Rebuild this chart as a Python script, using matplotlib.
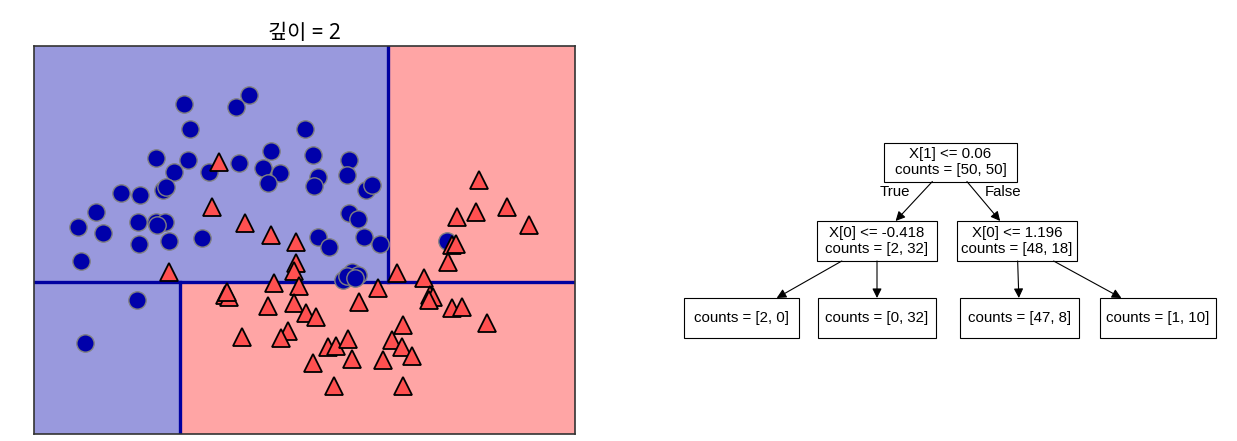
import numpy as np
import matplotlib
matplotlib.use("Agg")
import matplotlib.pyplot as plt
from matplotlib.colors import ListedColormap
from matplotlib.patches import Rectangle

# two moons sample, class 0 (circles)
x0 = [-0.387, 0.117, 0.017, -0.340, 0.552, -0.604, -0.356, -0.465, -0.193, 0.040,
      0.288, 0.226, 0.358, 0.265, 0.614, 0.653, 0.622, 0.893, 0.878, 1.025,
      1.072, -0.876, -0.728, -0.550, -0.527, -1.070, -1.210, -1.016, -0.744, -0.604,
      -0.534, -0.596, -0.736, -0.503, -0.247, -1.186, 0.893, 0.963, 0.653, 0.738,
      1.010, 1.134, 0.847, 0.917, 0.963, 0.878, 0.940, 1.654, -0.752, -1.155]
y0 = [1.441, 1.511, 1.418, 1.247, 1.247, 1.022, 1.007, 0.914, 0.914, 0.983,
      1.077, 0.945, 0.906, 0.828, 1.046, 0.875, 0.805, 1.007, 0.890, 0.774,
      0.813, 0.751, 0.735, 0.774, 0.797, 0.603, 0.487, 0.440, 0.526, 0.526,
      0.526, 0.502, 0.355, 0.378, 0.401, 0.223, 0.595, 0.549, 0.409, 0.332,
      0.409, 0.355, 0.076, 0.138, 0.114, 0.107, 0.091, 0.378, -0.080, -0.413]

# class 1 (triangles)
x1 = [-0.115, -0.170, 0.086, 0.288, 0.482, 0.482, 0.467, -0.503,
      1.902, 1.732, 1.879, 2.120, 2.290, 1.693, 1.724, 1.662, 1.266, 1.475,
      0.311, 0.505, -0.069, -0.038, -0.053, 0.265, 0.467, 0.560, 0.637, 0.971,
      1.118, 1.522, 1.545, 1.514, 1.693, 1.770, 1.964, 1.312, 0.063, 0.420,
      0.366, 0.730, 0.793, 0.886, 0.614, 0.917, 1.227, 1.305, 1.157, 1.382,
      0.777, 1.312]
y1 = [0.991, 0.642, 0.518, 0.425, 0.370, 0.207, 0.145, 0.138,
      0.852, 0.564, 0.603, 0.642, 0.502, 0.347, 0.355, 0.215, 0.130, 0.091,
      0.052, 0.029, -0.041, -0.056, -0.018, -0.126, -0.103, -0.181, -0.212, -0.095,
      0.013, -0.041, -0.056, -0.080, -0.142, -0.134, -0.258, -0.274, -0.367, -0.320,
      -0.375, -0.444, -0.437, -0.382, -0.569, -0.538, -0.390, -0.444, -0.545, -0.514,
      -0.747, -0.747]

# depth 2 tree
root_thr = 0.06     # X[1]
left_thr = -0.418   # X[0]
right_thr = 1.196   # X[0]

node_text = ["X[1] <= 0.06\ncounts = [50, 50]",
             "X[0] <= -0.418\ncounts = [2, 32]",
             "X[0] <= 1.196\ncounts = [48, 18]",
             "counts = [2, 0]",
             "counts = [0, 32]",
             "counts = [47, 8]",
             "counts = [1, 10]"]
edges = [(0, 1), (0, 2), (1, 3), (1, 4), (2, 5), (2, 6)]

xlim = (-1.551, 2.647)
ylim = (-1.120, 1.891)

W, H = 1237, 441
fig = plt.figure(figsize=(W / 100, H / 100), dpi=100)

# --- left: partition plot ---
ax = fig.add_axes([34 / W, 7 / H, 541 / W, 388 / H])
cm2 = ListedColormap(['#0000aa', '#ff2020'])
gx, gy = np.meshgrid(np.linspace(xlim[0], xlim[1], 900), np.linspace(ylim[0], ylim[1], 700))
pred = np.where(gy <= root_thr, gx > left_thr, gx > right_thr).astype(int)
ax.imshow(pred, extent=(xlim[0], xlim[1], ylim[0], ylim[1]), origin='lower',
          cmap=cm2, alpha=0.4, aspect='auto', interpolation='nearest')

line_c = '#0000a0'
ax.plot(xlim, [root_thr, root_thr], c=line_c, lw=2.4)
ax.plot([left_thr, left_thr], [ylim[0], root_thr], c=line_c, lw=2.4)
ax.plot([right_thr, right_thr], [root_thr, ylim[1]], c=line_c, lw=2.4)

ax.plot(x0, y0, 'o', ms=12.5, c='#0000aa', mec='grey', mew=1)
ax.plot(x1, y1, '^', ms=13.5, c='#ff5050', mec='black', mew=1.3)

ax.set_xlim(xlim)
ax.set_ylim(ylim)
ax.set_xticks([])
ax.set_yticks([])
for s in ax.spines.values():
    s.set_color('#333333')
    s.set_linewidth(1.2)
ax.set_title('깊이 = 2', fontsize=15, family=['Noto Sans', 'Noto Sans CJK KR', 'DejaVu Sans'], pad=5)

# --- right: tree drawing (layout in figure pixels) ---
tax = fig.add_axes([0, 0, 1, 1])
tax.set_xlim(0, W)
tax.set_ylim(H, 0)
tax.axis('off')
tax.patch.set_visible(False)

# center x, center y, width, height
layout = [(950.5, 162, 133, 39),
          (877, 241, 120, 40),
          (1017, 241, 120, 40),
          (741.5, 318, 115, 40),
          (877, 318, 118, 40),
          (1019.5, 318, 119, 40),
          (1158, 318, 116, 40)]

for (cx, cy, w, h), txt in zip(layout, node_text):
    tax.add_patch(Rectangle((cx - w / 2, cy - h / 2), w, h, fill=False, ec='black', lw=0.8))
    tax.text(cx, cy, txt, ha='center', va='center', fontsize=10.8,
             family='Liberation Sans', linespacing=1.25)

for p, c in edges:
    px, py, pw, ph = layout[p]
    cx, cy, cw, ch = layout[c]
    y_start = py + ph / 2
    y_end = cy - ch / 2
    xs = px + (cx - px) * (y_start - py) / (cy - py)
    xe = px + (cx - px) * (y_end - py) / (cy - py)
    tax.annotate('', xy=(xe, y_end), xytext=(xs, y_start),
                 arrowprops=dict(arrowstyle='-|>', color='black', lw=0.8,
                                 mutation_scale=14, shrinkA=0, shrinkB=0))

rx, ry, rw, rh = layout[0]
tax.text(rx - 56, ry + 30, 'True', ha='center', va='center', fontsize=10.8, family='Liberation Sans')
tax.text(rx + 53, ry + 30, 'False', ha='center', va='center', fontsize=10.8, family='Liberation Sans')

fig.savefig('out.png', dpi=100)
